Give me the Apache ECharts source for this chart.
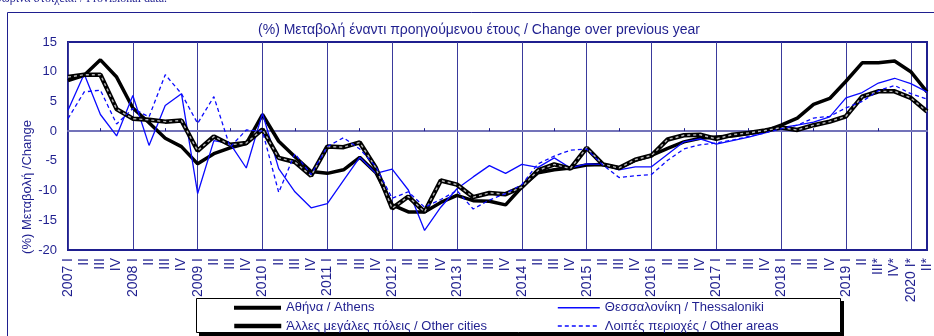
<!DOCTYPE html>
<html>
<head>
<meta charset="utf-8">
<script src="https://cdn.jsdelivr.net/npm/echarts@6/dist/echarts.min.js"></script>
<style>
  html, body { margin: 0; padding: 0; background: #ffffff; }
  #chart { width: 934px; height: 336px; }
</style>
</head>
<body>
<div id="chart"></div>
<script>
// Quarterly categories, 2007 I – 2020 II (* = provisional)
const quarters = [
  '2007 I','II','III','IV',
  '2008 I','II','III','IV',
  '2009 I','II','III','IV',
  '2010 I','II','III','IV',
  '2011 I','II','III','IV',
  '2012 I','II','III','IV',
  '2013 I','II','III','IV',
  '2014 I','II','III','IV',
  '2015 I','II','III','IV',
  '2016 I','II','III','IV',
  '2017 I','II','III','IV',
  '2018 I','II','III','IV',
  '2019 I','II','III*','IV*',
  '2020 I*','II*'
];

// Year-on-year change (%)
const athens = [
  8.5, 9.4, 12.0, 9.1,
  3.9, 1.4, -1.2, -2.6,
  -5.5, -3.8, -2.8, -2.1,
  2.8, -1.7, -4.3, -6.8,
  -7.1, -6.5, -4.4, -7.0,
  -12.4, -13.6, -13.6, -12.0,
  -10.8, -11.7, -11.8, -12.4,
  -9.4, -7.0, -6.5, -6.2,
  -5.7, -5.6, -6.2, -4.9,
  -4.1, -2.9, -1.8, -1.2,
  -1.0, -0.8, -0.4, 0.0,
  1.0, 2.2, 4.5, 5.5,
  8.4, 11.5, 11.5, 11.8,
  10.0, 6.6
];

const thessaloniki = [
  3.5, 9.6, 2.8, -0.8,
  6.0, -2.4, 4.3, 6.3,
  -10.5, -1.6, -2.1, -6.2,
  3.0, -6.3, -10.2, -12.9,
  -12.2, -8.3, -4.4, -7.1,
  -6.4, -9.9, -16.7, -12.8,
  -9.7, -7.7, -5.8, -7.1,
  -5.6, -6.1, -4.5, -6.2,
  -5.5, -5.6, -6.5, -6.0,
  -6.0, -3.9, -1.8, -1.3,
  -2.2, -1.6, -1.0, -0.3,
  0.6, 1.0, 1.5, 2.4,
  5.6, 6.5, 8.1, 8.9,
  8.0, 6.6
];

const otherCities = [
  9.1, 9.5, 9.5, 3.7,
  2.1, 1.9, 1.6, 1.8,
  -3.3, -0.9, -2.3, -2.0,
  0.3, -4.5, -5.2, -7.5,
  -2.6, -2.7, -1.9, -6.2,
  -13.0, -11.0, -13.6, -8.3,
  -9.0, -11.1, -10.4, -10.6,
  -9.4, -6.6, -5.6, -6.3,
  -2.8, -5.6, -6.2, -4.8,
  -4.1, -1.4, -0.7, -0.6,
  -1.3, -0.6, -0.3, 0.1,
  0.6, 0.2, 1.0, 1.6,
  2.5, 5.8, 6.7, 6.7,
  5.6, 3.3
];

const otherAreas = [
  2.1, 6.6, 6.9, 1.2,
  3.8, 2.4, 9.5, 6.3,
  1.3, 5.8, -2.7, 0.2,
  0.0, -10.3, -3.8, -7.3,
  -2.6, -1.1, -3.0, -6.0,
  -11.3, -10.2, -12.8, -11.5,
  -10.0, -13.1, -11.6, -10.5,
  -9.0, -5.5, -4.2, -3.2,
  -3.0, -5.7, -7.8, -7.5,
  -7.3, -4.9, -3.0, -2.3,
  -2.0, -1.5, -0.9, -0.3,
  0.4, 1.0, 2.2, 2.5,
  3.9, 5.0, 6.8, 7.7,
  6.3, 5.4
];

const yTicks = { min: -20, max: 15, step: 5 };

const NAVY = '#1f1f8f';
const FONT = '"Liberation Sans", Arial, sans-serif';

const names = {
  athens: 'Αθήνα / Athens',
  thess: 'Θεσσαλονίκη / Thessaloniki',
  cities: 'Άλλες μεγάλες πόλεις / Other cities',
  areas: 'Λοιπές περιοχές / Other areas'
};

// one legend block per entry, laid out as a 2 x 2 table
function legendEntry(name, left, top, width, lineWidth) {
  return {
    show: true, orient: 'horizontal', left: left, top: top, padding: 0,
    itemWidth: width, itemHeight: 14, selectedMode: false,
    itemStyle: { opacity: 0 },
    lineStyle: { width: lineWidth },
    textStyle: { color: NAVY, fontSize: 13, fontFamily: FONT, lineHeight: 14 },
    data: [name]
  };
}

const chart = echarts.init(document.getElementById('chart'), null, { renderer: 'canvas' });

chart.setOption({
  animation: false,
  backgroundColor: '#ffffff',
  textStyle: { fontFamily: FONT },
  grid: {
    left: 68, right: 7, top: 42, bottom: 86,
    show: true, borderColor: NAVY, borderWidth: 2, backgroundColor: 'transparent'
  },
  xAxis: [
    {
      type: 'category',
      data: quarters,
      boundaryGap: false,
      position: 'bottom',
      axisLine: { onZero: false, lineStyle: { color: NAVY, width: 2 } },
      axisTick: { show: false },
      axisLabel: {
        interval: 0, rotate: 90, margin: 8,
        color: NAVY, fontSize: 14, fontFamily: FONT
      },
      splitLine: {
        show: true,
        interval: (i) => i % 4 === 0,
        lineStyle: { color: '#3a3a9c', width: 1 }
      }
    },
    {
      // zero line with mid-year ticks
      type: 'category',
      data: quarters,
      boundaryGap: false,
      position: 'bottom',
      axisLine: { onZero: true, lineStyle: { color: '#7373b9', width: 2 } },
      axisTick: {
        show: true, inside: true, length: 3,
        interval: (i) => i % 4 === 2,
        lineStyle: { color: NAVY, width: 1 }
      },
      axisLabel: { show: false },
      splitLine: { show: false }
    }
  ],
  yAxis: {
    type: 'value',
    min: yTicks.min, max: yTicks.max, interval: yTicks.step,
    axisLine: { show: false },
    axisTick: { show: false },
    splitLine: { show: false },
    axisLabel: { color: NAVY, fontSize: 13, fontFamily: FONT, margin: 11 }
  },
  legend: [
    legendEntry(names.athens, 232, 300.7, 47, 4),
    legendEntry(names.cities, 232, 319, 47, 4.5),
    legendEntry(names.thess, 557, 300.7, 42, 1.6),
    legendEntry(names.areas, 557, 319, 42, 1.6)
  ],
  graphic: [
    {
      type: 'rect', silent: true, z: -10,
      shape: { x: 7.5, y: 12.5, width: 1000, height: 400 },
      style: { fill: 'none', stroke: NAVY, lineWidth: 1 }
    },
    {
      type: 'text', silent: true,
      style: {
        x: 167, y: 5, text: '* Προσωρινά στοιχεία. / Provisional data.',
        align: 'right', verticalAlign: 'bottom',
        font: '12px "Liberation Serif", "Times New Roman", serif', fill: NAVY
      }
    },
    {
      type: 'text', silent: true,
      style: {
        x: 479, y: 30, text: '(%) Μεταβολή έναντι προηγούμενου έτους / Change over previous year',
        align: 'center', verticalAlign: 'middle',
        font: '14px ' + FONT, fill: NAVY
      }
    },
    {
      type: 'text', silent: true,
      x: 27, y: 187, rotation: Math.PI / 2,
      style: {
        x: 0, y: 0, text: '(%) Μεταβολή /Change',
        align: 'center', verticalAlign: 'middle',
        font: '13px ' + FONT, fill: NAVY
      }
    },
    {
      type: 'rect', silent: true, z: 0,
      shape: { x: 199, y: 301, width: 645, height: 35 },
      style: { fill: '#000000' }
    },
    {
      type: 'rect', silent: true, z: 1,
      shape: { x: 196.5, y: 298.5, width: 644, height: 34 },
      style: { fill: '#ffffff', stroke: '#000000', lineWidth: 1 }
    }
  ],
  series: [
    {
      name: names.athens, type: 'line', data: athens,
      symbol: 'none', z: 3,
      lineStyle: { color: '#000000', width: 3.5 },
      itemStyle: { color: '#000000' }
    },
    {
      name: names.thess, type: 'line', data: thessaloniki,
      symbol: 'none', z: 4,
      lineStyle: { color: '#0a0aff', width: 1.3 },
      itemStyle: { color: '#0a0aff' }
    },
    {
      name: names.cities, type: 'line', data: otherCities,
      symbol: 'none', z: 5,
      lineStyle: { color: '#000000', width: 4.5 },
      itemStyle: { color: '#000000' }
    },
    {
      // light dash running inside the thick black line
      name: 'cities-inner', type: 'line', data: otherCities,
      symbol: 'none', z: 6, silent: true,
      lineStyle: { color: '#b5b5b5', width: 1.4, type: [3, 3] }
    },
    {
      name: names.areas, type: 'line', data: otherAreas,
      symbol: 'none', z: 7,
      lineStyle: { color: '#0a0aff', width: 1.3, type: [4, 3] },
      itemStyle: { color: '#0a0aff' }
    }
  ]
});
</script>
</body>
</html>
